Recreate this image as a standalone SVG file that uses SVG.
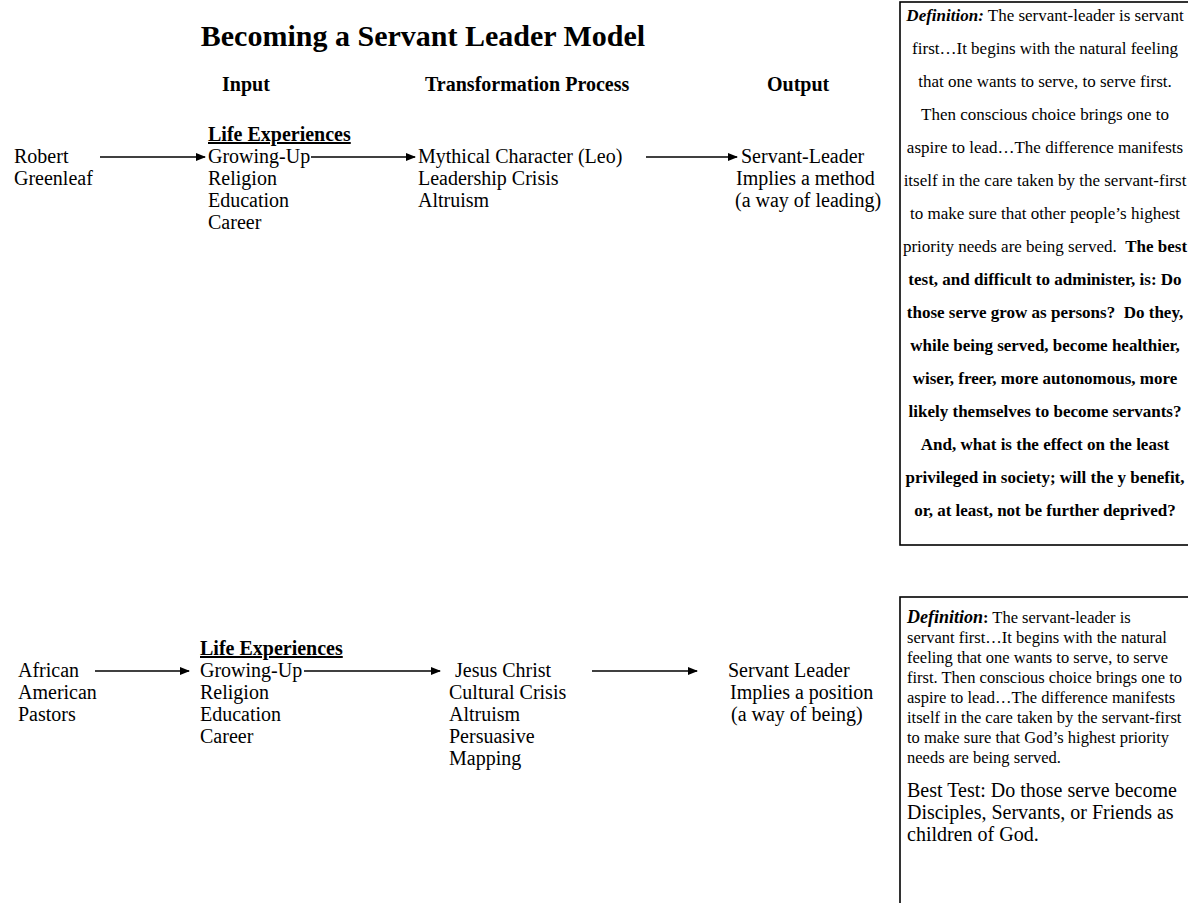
<svg xmlns="http://www.w3.org/2000/svg" width="1188" height="903" viewBox="0 0 1188 903">
<style>
text{font-family:"Liberation Serif","Times New Roman",serif;fill:#000}
.title{font-size:30px;font-weight:bold}
.hdr{font-size:20px;font-weight:bold}
.body{font-size:20px}
.sub{font-size:20px;font-weight:bold;text-decoration:underline}
.box{font-size:17px}
.box2{font-size:16.5px}
.c{text-anchor:middle}
.b{font-weight:bold}
.bi{font-weight:bold;font-style:italic}
.bt{font-size:20px}
.frame{fill:none;stroke:#000;stroke-width:1.6}
.conn{stroke:#000;stroke-width:1.3;fill:none;marker-end:url(#ah)}
</style>
<defs>
<marker id="ah" markerWidth="10" markerHeight="8" refX="9" refY="4" orient="auto" markerUnits="userSpaceOnUse">
<path d="M0,0 L10,4 L0,8 Z" fill="#000"/>
</marker>
</defs>
<rect width="1188" height="903" fill="#fff"/>

<g id="title"><text class="title c" x="423" y="46">Becoming a Servant Leader Model</text></g>
<g id="headers">
<text class="hdr" x="222" y="91">Input</text>
<text class="hdr" x="425" y="91">Transformation Process</text>
<text class="hdr" x="767" y="91">Output</text>
</g>

<g id="top-source">
<text class="body" x="14" y="163">Robert</text>
<text class="body" x="14" y="185">Greenleaf</text>
</g>
<g id="top-input">
<text class="sub" x="208" y="141">Life Experiences</text>
<text class="body" x="208" y="163">Growing-Up</text>
<text class="body" x="208" y="185">Religion</text>
<text class="body" x="208" y="207">Education</text>
<text class="body" x="208" y="229">Career</text>
</g>
<g id="top-process">
<text class="body" x="418" y="163">Mythical Character (Leo)</text>
<text class="body" x="418" y="185">Leadership Crisis</text>
<text class="body" x="418" y="207">Altruism</text>
</g>
<g id="top-output">
<text class="body" x="741" y="163">Servant-Leader</text>
<text class="body" x="736" y="185">Implies a method</text>
<text class="body" x="735" y="207">(a way of leading)</text>
</g>

<g id="bottom-source">
<text class="body" x="18" y="677">African</text>
<text class="body" x="18" y="699">American</text>
<text class="body" x="18" y="721">Pastors</text>
</g>
<g id="bottom-input">
<text class="sub" x="200" y="655">Life Experiences</text>
<text class="body" x="200" y="677">Growing-Up</text>
<text class="body" x="200" y="699">Religion</text>
<text class="body" x="200" y="721">Education</text>
<text class="body" x="200" y="743">Career</text>
</g>
<g id="bottom-process">
<text class="body" x="455" y="677">Jesus Christ</text>
<text class="body" x="449" y="699">Cultural Crisis</text>
<text class="body" x="449" y="721">Altruism</text>
<text class="body" x="449" y="743">Persuasive</text>
<text class="body" x="449" y="765">Mapping</text>
</g>
<g id="bottom-output">
<text class="body" x="728" y="677">Servant Leader</text>
<text class="body" x="730" y="699">Implies a position</text>
<text class="body" x="731" y="721">(a way of being)</text>
</g>

<g id="connectors">
<line class="conn" x1="100" y1="157" x2="205" y2="157"/>
<line class="conn" x1="311" y1="157" x2="415" y2="157"/>
<line class="conn" x1="646" y1="157" x2="737" y2="157"/>
<line class="conn" x1="95" y1="671" x2="189" y2="671"/>
<line class="conn" x1="304" y1="671" x2="440" y2="671"/>
<line class="conn" x1="592" y1="671" x2="697" y2="671"/>
</g>

<g id="definition-top">
<rect class="frame" x="900" y="2" width="310" height="543"/>
<text class="box c" x="1045" y="21"><tspan class="bi">Definition:</tspan> The servant-leader is servant</text>
<text class="box c" x="1045" y="54">first…It begins with the natural feeling</text>
<text class="box c" x="1045" y="87">that one wants to serve, to serve first.</text>
<text class="box c" x="1045" y="120">Then conscious choice brings one to</text>
<text class="box c" x="1045" y="153">aspire to lead…The difference manifests</text>
<text class="box c" x="1045" y="186">itself in the care taken by the servant-first</text>
<text class="box c" x="1045" y="219">to make sure that other people’s highest</text>
<text class="box c" x="1045" y="252" xml:space="preserve">priority needs are being served.  <tspan class="b">The best</tspan></text>
<text class="box c b" x="1045" y="285">test, and difficult to administer, is: Do</text>
<text class="box c b" x="1045" y="318" xml:space="preserve">those serve grow as persons?  Do they,</text>
<text class="box c b" x="1045" y="351">while being served, become healthier,</text>
<text class="box c b" x="1045" y="384">wiser, freer, more autonomous, more</text>
<text class="box c b" x="1045" y="417">likely themselves to become servants?</text>
<text class="box c b" x="1045" y="450">And, what is the effect on the least</text>
<text class="box c b" x="1045" y="483">privileged in society; will the y benefit,</text>
<text class="box c b" x="1045" y="516">or, at least, not be further deprived?</text>
</g>

<g id="definition-bottom">
<rect class="frame" x="900" y="597" width="310" height="330"/>
<text class="box2" x="907" y="623"><tspan class="bi" style="font-size:18px">Definition</tspan><tspan class="b">:</tspan> The servant-leader is</text>
<text class="box2" x="907" y="643">servant first…It begins with the natural</text>
<text class="box2" x="907" y="663">feeling that one wants to serve, to serve</text>
<text class="box2" x="907" y="683">first. Then conscious choice brings one to</text>
<text class="box2" x="907" y="703">aspire to lead…The difference manifests</text>
<text class="box2" x="907" y="723">itself in the care taken by the servant-first</text>
<text class="box2" x="907" y="743">to make sure that God’s highest priority</text>
<text class="box2" x="907" y="763">needs are being served.</text>
<text class="bt" x="907" y="797">Best Test: Do those serve become</text>
<text class="bt" x="907" y="819">Disciples, Servants, or Friends as</text>
<text class="bt" x="907" y="841">children of God.</text>
</g>
</svg>
